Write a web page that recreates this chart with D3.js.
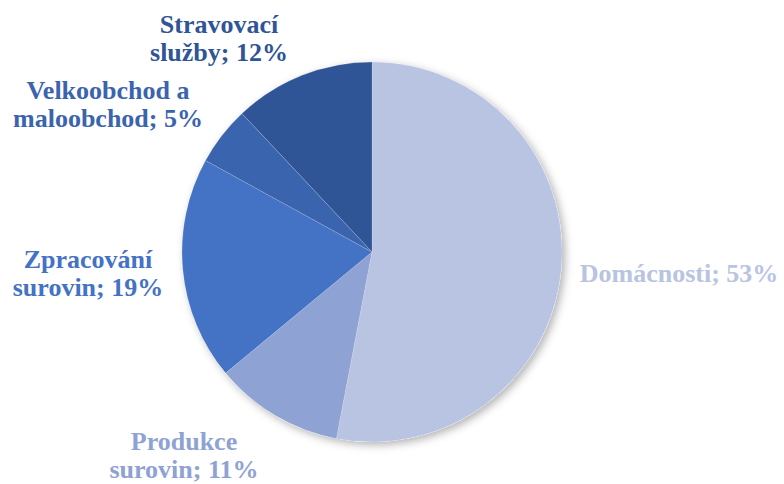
<!DOCTYPE html>
<html>
<head>
<meta charset="utf-8">
<script src="https://cdn.jsdelivr.net/npm/d3@7/dist/d3.min.js"></script>
<style>
  html, body { margin: 0; padding: 0; background: #fff; }
  svg { display: block; }
</style>
</head>
<body>
<svg id="chart"></svg>
<script>
// data
const categories = ['Domácnosti', 'Produkce surovin', 'Zpracování surovin', 'Velkoobchod a maloobchod', 'Stravovací služby'];
const shares = [53, 11, 19, 5, 12];
// label text, split the way the original wraps it
const labelLines = [
  ['Domácnosti; 53%'],
  ['Produkce', 'surovin; 11%'],
  ['Zpracování', 'surovin; 19%'],
  ['Velkoobchod a', 'maloobchod; 5%'],
  ['Stravovací', 'služby; 12%'],
];
const colors = ['#B9C3E2', '#8FA2D4', '#4472C4', '#3A64AD', '#2F5597'];

const width = 784, height = 484;
const cx = 372, cy = 252, radius = 190;
// label anchors (centre x, first baseline y)
const labelAnchors = [[679, 282], [184, 450], [88, 268], [108, 99], [219, 33]];
const lineHeight = 28;

const svg = d3.select('#chart').attr('width', width).attr('height', height);

const defs = svg.append('defs');
defs.append('filter')
  .attr('id', 'shadow')
  .attr('x', '-20%').attr('y', '-20%')
  .attr('width', '140%').attr('height', '140%')
  .append('feDropShadow')
  .attr('dx', 3).attr('dy', 3)
  .attr('stdDeviation', 4)
  .attr('flood-color', '#000')
  .attr('flood-opacity', 0.3);

const data = categories.map((c, i) => ({ name: c, value: shares[i], idx: i }));

const pie = d3.pie().value((d) => d.value).sort(null);
const arc = d3.arc().innerRadius(0).outerRadius(radius);

const g = svg.append('g').attr('transform', `translate(${cx},${cy})`);

// shadow under the whole pie
g.append('circle')
  .attr('r', radius)
  .attr('fill', '#fff')
  .attr('filter', 'url(#shadow)');

g.selectAll('path.slice')
  .data(pie(data))
  .enter()
  .append('path')
  .attr('class', 'slice')
  .attr('d', arc)
  .attr('fill', (d) => colors[d.data.idx])
  .attr('stroke', 'rgba(255,255,255,0.3)')
  .attr('stroke-width', 0.5);

// labels
const labels = svg.selectAll('text.label')
  .data(data)
  .enter()
  .append('text')
  .attr('class', 'label')
  .attr('text-anchor', 'middle')
  .attr('font-family', '"Liberation Serif", "Times New Roman", serif')
  .attr('font-weight', 'bold')
  .attr('font-size', '26px')
  .attr('fill', (d) => colors[d.idx]);

labels.each(function (d) {
  const [x, y] = labelAnchors[d.idx];
  d3.select(this)
    .selectAll('tspan')
    .data(labelLines[d.idx])
    .enter()
    .append('tspan')
    .attr('x', x)
    .attr('y', (t, j) => y + j * lineHeight)
    .text((t) => t);
});
</script>
</body>
</html>
